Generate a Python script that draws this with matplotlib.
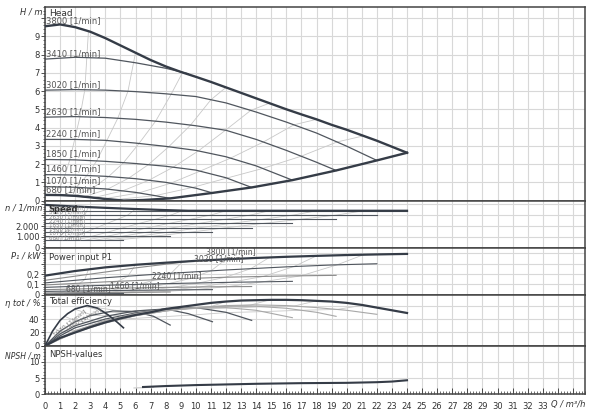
import numpy as np
import matplotlib
matplotlib.use("Agg")
import matplotlib.pyplot as plt
from matplotlib.ticker import MultipleLocator

# ---- data ----
speeds = [680, 1070, 1460, 1850, 2240, 2630, 3020, 3410]

# head (Q in m3/h, H in m)
q_hmax = [0, 1, 2, 3, 4, 5, 6, 7, 8, 9, 10, 11, 12, 13, 14, 15, 16, 17, 18, 19, 20, 21, 22, 23, 24]
h_max = [9.55, 9.65, 9.5, 9.25, 8.9, 8.5, 8.1, 7.7, 7.35, 7.05, 6.78, 6.5, 6.2, 5.9, 5.6, 5.3,
         5.0, 4.72, 4.45, 4.15, 3.88, 3.58, 3.28, 2.95, 2.62]
q_hmin = [0, 1, 2, 3, 4, 5.2, 6.5, 8.3, 11.1, 13.7, 16.4, 19.3, 22, 24]
h_min = [0.31, 0.3, 0.26, 0.18, 0.09, 0.0, 0.03, 0.12, 0.42, 0.72, 1.12, 1.65, 2.2, 2.62]

q_h = {
    680: [0, 1, 2, 3, 4, 5.2],
    1070: [0, 2, 4, 6, 7.3, 8.3],
    1460: [0, 2, 4, 6, 8, 10, 11.1],
    1850: [0, 2, 4, 6, 8, 10, 12, 13.7],
    2240: [0, 2, 4, 6, 8, 10, 12, 14, 16.4],
    2630: [0, 2, 4, 6, 8, 10, 12, 14, 16, 18, 19.3],
    3020: [0, 2, 4, 6, 8, 10, 12, 14, 16, 18, 20, 22],
    3410: [0, 2, 4, 6, 8, 9.5],
}
h_speed = {
    680: [0.31, 0.3, 0.26, 0.18, 0.09, 0.0],
    1070: [0.76, 0.73, 0.64, 0.45, 0.27, 0.12],
    1460: [1.42, 1.4, 1.33, 1.2, 1.0, 0.68, 0.42],
    1850: [2.25, 2.23, 2.15, 2.03, 1.88, 1.67, 1.25, 0.72],
    2240: [3.35, 3.35, 3.3, 3.15, 2.97, 2.75, 2.4, 1.9, 1.12],
    2630: [4.57, 4.6, 4.55, 4.45, 4.3, 4.1, 3.85, 3.35, 2.75, 2.1, 1.65],
    3020: [6.05, 6.08, 6.05, 5.97, 5.85, 5.7, 5.35, 4.85, 4.3, 3.7, 2.98, 2.2],
    3410: [7.75, 7.85, 7.8, 7.55, 7.25, 6.95],
}

# speed panel
q_nmax = [0, 2, 4, 6, 8, 9.5, 12, 16, 20, 24]
n_max = [3950, 3800, 3680, 3570, 3470, 3410, 3410, 3410, 3410, 3410]
q_end = {680: 5.2, 1070: 8.3, 1460: 11.1, 1850: 13.7, 2240: 16.4, 2630: 19.3, 3020: 22, 3410: 24}

# power input P1 (kW)
q_pmax = [0, 2, 4, 6, 8, 10, 12, 14, 16, 18, 20, 22, 24]
p_max = [0.185, 0.23, 0.265, 0.29, 0.31, 0.328, 0.343, 0.356, 0.367, 0.376, 0.384, 0.39, 0.395]
q_p = {
    680: [0, 2, 4, 5.2],
    1070: [0, 3, 6, 8.3],
    1460: [0, 3, 6, 9, 11.1],
    1850: [0, 4, 8, 11, 13.7],
    2240: [0, 4, 8, 12, 16.4],
    2630: [0, 4, 8, 12, 16, 19.3],
    3020: [0, 4, 8, 12, 16, 19, 22],
    3410: [0, 3, 6, 9.5],
}
p_speed = {
    680: [0.008, 0.01, 0.011, 0.012],
    1070: [0.018, 0.022, 0.025, 0.027],
    1460: [0.033, 0.039, 0.044, 0.048, 0.05],
    1850: [0.05, 0.062, 0.072, 0.077, 0.08],
    2240: [0.072, 0.092, 0.108, 0.12, 0.13],
    2630: [0.095, 0.125, 0.15, 0.17, 0.182, 0.188],
    3020: [0.115, 0.165, 0.205, 0.24, 0.27, 0.288, 0.30],
    3410: [0.14, 0.2, 0.26, 0.322],
}

# total efficiency (%)
q_emax = [0, 1, 2, 3, 4, 5, 6, 7, 8, 9, 10, 11, 12, 13, 14, 15, 16, 17, 18, 19, 20, 21, 22, 23, 24]
e_max = [0, 12, 20, 28, 35, 41, 46, 50, 55, 58, 61, 64, 66, 67.5, 68, 68.5, 68.5, 68, 67, 66,
         64, 61, 57, 53, 49]
q_e = {
    680: [0, 0.5, 1, 1.5, 2, 2.8, 3.5, 4.2, 4.8, 5.2],
    1070: [0, 1, 2, 3, 4.5, 6, 7.2, 8.3],
    1460: [0, 1, 2, 4, 6, 8, 9.5, 11.1],
    1850: [0, 1, 2, 4, 6, 8, 10, 12, 13.7],
    2240: [0, 2, 4, 6, 8, 10, 12, 14, 16.4],
    2630: [0, 2, 4, 6, 8, 10, 12, 14, 16, 18, 19.3],
    3020: [0, 2, 4, 6, 8, 10, 12, 14, 16, 18, 20, 22],
    3410: [0, 2, 4, 6, 8, 9.5],
}
e_speed = {
    680: [0, 22, 38, 48, 55, 60, 56, 46, 35, 27],
    1070: [0, 22, 36, 45, 52, 51, 44, 31],
    1460: [0, 18, 30, 44, 52, 55, 48, 36],
    1850: [0, 15, 27, 40, 49, 55, 57, 50, 38],
    2240: [0, 23, 37, 46, 53, 56, 57, 53, 42],
    2630: [0, 21, 35, 45, 52, 57, 59, 59, 56, 50, 44],
    3020: [0, 20, 34, 45, 52, 57, 60, 61, 60, 57, 53, 47],
    3410: [0, 22, 38, 48, 55, 59],
}

# NPSH (m)
q_npsh = [6.5, 8, 10, 12, 14, 17, 20, 22, 23, 24]
npsh = [2.2, 2.5, 2.8, 3.0, 3.2, 3.4, 3.5, 3.7, 3.9, 4.3]
q_npsh2 = [5.9, 6.5, 7.2]
npsh2 = [1.9, 2.0, 2.15]

fan_fracs = [0.12, 0.25, 0.38, 0.5, 0.62, 0.75, 0.88]

DARK = '#353c47'
MID = '#50565e'
LIGHT = '#c8c8c8'
GRID = '#d8d8d8'
TXT = '#333333'

plt.rcParams['font.family'] = ['DejaVu Sans']
fig = plt.figure(figsize=(6, 4.17), dpi=100)
gs = fig.add_gridspec(5, 1, height_ratios=[193, 47, 47, 51, 48], hspace=0,
                      left=0.075, right=0.975, top=0.983, bottom=0.055)
axes = [fig.add_subplot(gs[i]) for i in range(5)]
ax_h, ax_n, ax_p, ax_e, ax_s = axes

for ax in axes:
    ax.set_xlim(0, 35.8)
    ax.set_xticks(range(0, 36))
    ax.grid(True, which='major', color=GRID, lw=0.8)
    ax.set_axisbelow(True)
    for s in ax.spines.values():
        s.set_color('#444444')
        s.set_linewidth(1.1)
    ax.tick_params(axis='y', which='major', length=3, width=0.6, labelsize=6,
                   colors=TXT, pad=1)
    ax.tick_params(axis='y', which='minor', length=1.5, width=0.5, colors=TXT)
for ax in axes[:-1]:
    ax.tick_params(axis='x', length=0, labelbottom=False)


def fan(ax, qdict, vdict, qtop, vtop, fracs):
    # guide lines joining equal-fraction points of every speed curve
    keys = [k for k in speeds if k != 3410]
    for f in fracs:
        xs, ys = [], []
        for k in keys:
            qe = qdict[k][-1] * f
            xs.append(qe)
            ys.append(np.interp(qe, qdict[k], vdict[k]))
        qe = qtop[-1] * f
        xs.append(qe)
        ys.append(np.interp(qe, qtop, vtop))
        ax.plot(xs, ys, color=LIGHT, lw=0.6, zorder=1)


# ---- head ----
ax_h.set_ylim(0, 10.6)
ax_h.set_yticks(range(0, 11))
ax_h.set_yticklabels([str(i) for i in range(10)] + [''])
ax_h.yaxis.set_minor_locator(MultipleLocator(0.2))
fan(ax_h, q_h, h_speed, q_hmax, h_max, fan_fracs)
for k in speeds:
    ax_h.plot(q_h[k], h_speed[k], color=MID, lw=0.9, zorder=2)
ax_h.plot(q_hmax, h_max, color=DARK, lw=1.7, zorder=3)
ax_h.plot(q_hmin, h_min, color=DARK, lw=1.7, zorder=3)
for k in speeds + [3800]:
    y0 = h_max[0] if k == 3800 else h_speed[k][0]
    ax_h.text(0.05, y0 + 0.06, f'{k} [1/min]', fontsize=6, color='#555555',
              va='bottom', ha='left', zorder=4)
ax_h.text(0.25, 10.25, 'Head', fontsize=6.5, color=TXT, va='center')

# ---- speed ----
ax_n.set_ylim(0, 4350)
ax_n.set_yticks([0, 1000, 2000, 3000, 4000])
ax_n.set_yticklabels(['0', '1.000', '2.000', '', ''])
ax_n.yaxis.set_minor_locator(MultipleLocator(200))
n_q = {k: [0, q_end[k]] for k in speeds}
n_v = {k: [k, k] for k in speeds}
fan(ax_n, n_q, n_v, q_nmax, n_max, fan_fracs)
for k in speeds:
    ax_n.plot(n_q[k], n_v[k], color=MID, lw=0.8, zorder=2)
ax_n.plot(q_nmax, n_max, color=DARK, lw=1.6, zorder=3)
for k in speeds:
    ax_n.text(0.25, k + 30, f'{k} [1/min]', fontsize=4, color='#888888',
              va='bottom', zorder=4)
ax_n.text(0.25, 3550, 'Speed', fontsize=6, color=TXT, fontweight='bold', va='center', zorder=5)

# ---- power ----
ax_p.set_ylim(0, 0.455)
ax_p.set_yticks([0, 0.1, 0.2, 0.3, 0.4])
ax_p.set_yticklabels(['0', '0,1', '0,2', '', ''])
ax_p.yaxis.set_minor_locator(MultipleLocator(0.02))
fan(ax_p, q_p, p_speed, q_pmax, p_max, fan_fracs)
for k in speeds:
    ax_p.plot(q_p[k], p_speed[k], color=MID if k in (680, 1460, 2240, 3020) else '#8a8a8a',
              lw=0.8, zorder=2)
ax_p.plot(q_pmax, p_max, color=DARK, lw=1.6, zorder=3)
ax_p.text(0.25, 0.36, 'Power input P1', fontsize=6, color=TXT, va='center')
p_labels = [(3800, 10.7, 0.375), (3020, 9.9, 0.305), (2240, 7.1, 0.14),
            (1460, 4.3, 0.045), (680, 1.4, 0.015)]
for k, x, y in p_labels:
    ax_p.text(x, y, f'{k} [1/min]', fontsize=5.5, color='#555555', va='bottom')

# ---- efficiency ----
ax_e.set_ylim(0, 76)
ax_e.set_yticks([0, 20, 40, 60])
ax_e.set_yticklabels(['0', '20', '40', ''])
ax_e.yaxis.set_minor_locator(MultipleLocator(4))
fan(ax_e, q_e, e_speed, q_emax, e_max, fan_fracs)
for k in speeds:
    if k == 680:
        ax_e.plot(q_e[k], e_speed[k], color=DARK, lw=1.2, zorder=3)
    elif k in (1070, 1460, 1850):
        ax_e.plot(q_e[k], e_speed[k], color=MID, lw=0.9, zorder=2)
    else:
        ax_e.plot(q_e[k], e_speed[k], color='#a8a8a8', lw=0.8, zorder=2)
ax_e.plot(q_emax, e_max, color=DARK, lw=1.6, zorder=3)
ax_e.text(0.25, 66, 'Total efficiency', fontsize=6, color=TXT, va='center', zorder=5)
ax_e.text(0.5, 14, '1070 [1/min]', fontsize=4.5, color='#777777', rotation=38)
ax_e.text(1.3, 24, '1460 [1/min]', fontsize=4.5, color='#777777', rotation=30)

# ---- NPSH ----
ax_s.set_ylim(0, 15)
ax_s.set_yticks([0, 5, 10, 15])
ax_s.set_yticklabels(['0', '5', '10', ''])
ax_s.yaxis.set_minor_locator(MultipleLocator(1))
ax_s.plot(q_npsh2, npsh2, color=LIGHT, lw=0.8, zorder=2)
ax_s.plot(q_npsh, npsh, color=DARK, lw=1.5, zorder=3)
ax_s.text(0.25, 12.4, 'NPSH-values', fontsize=6, color=TXT, va='center')
ax_s.set_xticklabels([str(i) if i <= 33 else '' for i in range(36)])
ax_s.xaxis.set_minor_locator(MultipleLocator(0.2))
ax_s.tick_params(axis='x', which='major', direction='in', length=4, width=0.6,
                 labelsize=6, colors=TXT, pad=6)
ax_s.tick_params(axis='x', which='minor', direction='in', length=2, width=0.5, colors=TXT)

# axis captions
cap = dict(fontsize=6, color=TXT, style='italic', ha='right', va='center')
fig.text(42 / 600, 1 - 12 / 417, 'H / m', **cap)
fig.text(42 / 600, 1 - 208 / 417, 'n / 1/min', **cap)
fig.text(41 / 600, 1 - 256 / 417, 'P\u2081 / kW', **cap)
fig.text(41 / 600, 1 - 303 / 417, '\u03b7 tot / %', **cap)
fig.text(41 / 600, 1 - 356 / 417, 'NPSH / m', fontsize=5.5, color=TXT, style='italic',
         ha='right', va='center')
fig.text(585 / 600, 1 - 404 / 417, 'Q / m\u00b3/h', **cap)

fig.savefig('out.png', dpi=100)
